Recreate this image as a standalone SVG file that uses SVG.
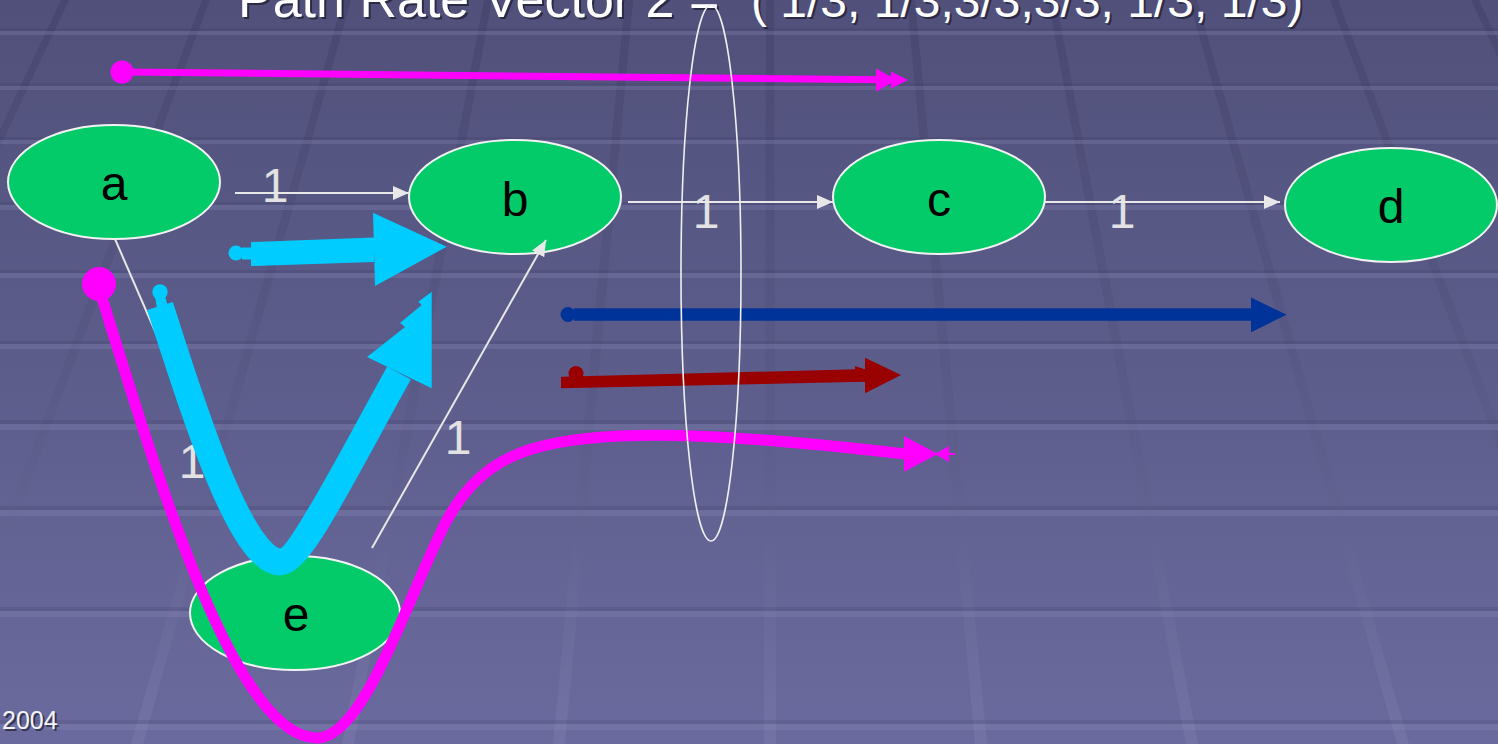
<svg xmlns="http://www.w3.org/2000/svg" width="1498" height="744" viewBox="0 0 1498 744">
<defs>
<linearGradient id="bg" x1="0" y1="0" x2="0" y2="1">
<stop offset="0" stop-color="#50507a"/>
<stop offset="1" stop-color="#6a6a9e"/>
</linearGradient>
<linearGradient id="slant" gradientUnits="userSpaceOnUse" x1="0" y1="0" x2="0" y2="744">
<stop offset="0" stop-color="#3e3e66" stop-opacity="0.5"/>
<stop offset="0.55" stop-color="#55557f" stop-opacity="0.35"/>
<stop offset="1" stop-color="#8282b2" stop-opacity="0.35"/>
</linearGradient>
<marker id="wa" viewBox="0 0 16 14" refX="16" refY="7" markerWidth="16" markerHeight="14" markerUnits="userSpaceOnUse" orient="auto">
<path d="M0,0 L16,7 L0,14 z" fill="#e8e8e8"/>
</marker>
</defs>
<style>
.node{fill:#03cb69;stroke:#f2f2f2;stroke-width:2}
.nl{font-family:"Liberation Sans",Arial,sans-serif;font-size:48px;fill:#000;text-anchor:middle}
.edge{stroke:#e8e8e8;stroke-width:2;fill:none}
.el{font-family:"Liberation Sans",Arial,sans-serif;font-size:48px;fill:#e2e2e2;text-anchor:middle}
.title{font-family:"Liberation Sans",Arial,sans-serif;font-size:52px}
.frac{font-size:48px}
.hd{fill:#3a3a60;opacity:0.18}
.hl{fill:#8c8cbc;opacity:0.28}
.sl{fill:url(#slant)}
.pink{fill:#ff00ff}
.pinks{stroke:#ff00ff;fill:none}
.cyan{fill:#00ccff}
.cyans{stroke:#00ccff;fill:none}
</style>
<rect x="0" y="0" width="1498" height="744" fill="url(#bg)"/>
<g id="background-grid">
<polygon class="sl" points="61,0 69,0 -280,744 -290,744"/>
<polygon class="sl" points="202,0 210,0 -68,744 -80,744"/>
<polygon class="sl" points="343,0 351,0 143,744 131,744"/>
<polygon class="sl" points="484,0 492,0 354,744 342,744"/>
<polygon class="sl" points="625,0 633,0 565,744 553,744"/>
<polygon class="sl" points="766,0 774,0 776,744 764,744"/>
<polygon class="sl" points="907,0 915,0 987,744 975,744"/>
<polygon class="sl" points="1048,0 1056,0 1198,744 1186,744"/>
<polygon class="sl" points="1189,0 1197,0 1409,744 1397,744"/>
<polygon class="sl" points="1330,0 1338,0 1620,744 1608,744"/>
<polygon class="sl" points="1471,0 1479,0 1831,744 1819,744"/>
<rect class="hd" x="0" y="28" width="1498" height="3"/><rect class="hl" x="0" y="31" width="1498" height="4"/>
<rect class="hd" x="0" y="83" width="1498" height="3"/><rect class="hl" x="0" y="86" width="1498" height="4"/>
<rect class="hd" x="0" y="137" width="1498" height="3"/><rect class="hl" x="0" y="140" width="1498" height="4"/>
<rect class="hd" x="0" y="202" width="1498" height="3"/><rect class="hl" x="0" y="205" width="1498" height="5"/>
<rect class="hd" x="0" y="270" width="1498" height="3"/><rect class="hl" x="0" y="273" width="1498" height="5"/>
<rect class="hd" x="0" y="341" width="1498" height="3"/><rect class="hl" x="0" y="344" width="1498" height="5"/>
<rect class="hd" x="0" y="420" width="1498" height="4"/><rect class="hl" x="0" y="424" width="1498" height="6"/>
<rect class="hd" x="0" y="506" width="1498" height="4"/><rect class="hl" x="0" y="510" width="1498" height="6"/>
<rect class="hd" x="0" y="607" width="1498" height="4"/><rect class="hl" x="0" y="611" width="1498" height="6"/>
<rect class="hd" x="0" y="720" width="1498" height="4"/><rect class="hl" x="0" y="724" width="1498" height="6"/>
</g>
<g id="title">
<text class="title" x="240" y="19" fill="#1e1e34" opacity="0.75">Path Rate Vector 2 = <tspan class="frac" x="753">( 1/3, 1/3,3/3,3/3, 1/3, 1/3)</tspan></text>
<text class="title" x="238" y="17" fill="#ffffff">Path Rate Vector 2 = <tspan class="frac" x="751">( 1/3, 1/3,3/3,3/3, 1/3, 1/3)</tspan></text>
</g>
<g id="footer">
<text x="4" y="731" font-family="Liberation Sans, Arial, sans-serif" font-size="25" fill="#1e1e34" opacity="0.7">2004</text>
<text x="2" y="729" font-family="Liberation Sans, Arial, sans-serif" font-size="25" fill="#f4f4f4">2004</text>
</g>
<g id="node-a"><ellipse class="node" cx="114" cy="182" rx="106" ry="57"/><text class="nl" x="114" y="200">a</text></g>
<g id="node-b"><ellipse class="node" cx="515" cy="197" rx="106" ry="57"/><text class="nl" x="515" y="216">b</text></g>
<g id="node-c"><ellipse class="node" cx="939" cy="197" rx="106" ry="57"/><text class="nl" x="939" y="216">c</text></g>
<g id="node-d"><ellipse class="node" cx="1391" cy="205" rx="106" ry="57"/><text class="nl" x="1391" y="223">d</text></g>
<g id="node-e"><ellipse class="node" cx="295" cy="613" rx="105" ry="57"/><text class="nl" x="296" y="631">e</text></g>
<g id="connectors">
<text class="el" x="275" y="202">1</text>
<text class="el" x="706" y="228">1</text>
<text class="el" x="1122" y="228">1</text>
<text class="el" x="458" y="454">1</text>
<text class="el" x="192" y="478">1</text>
<line class="edge" x1="235" y1="193" x2="409" y2="193" marker-end="url(#wa)"/>
<line class="edge" x1="628" y1="202" x2="833" y2="202" marker-end="url(#wa)"/>
<line class="edge" x1="1045" y1="202" x2="1280" y2="202" marker-end="url(#wa)"/>
<line class="edge" x1="372" y1="548" x2="546" y2="240" marker-end="url(#wa)"/>
<line class="edge" x1="115" y1="239" x2="253" y2="557" marker-end="url(#wa)"/>
</g>
<g id="flows">
<g id="flow-pink-top">
<circle class="pink" cx="122" cy="72" r="11.5"/>
<line class="pinks" x1="122" y1="72" x2="880" y2="79.7" stroke-width="7"/>
<polygon class="pink" points="876,68.5 897,80 876,91.5"/>
<polygon class="pink" points="891,71.5 908,80 891,88.5"/>
</g>
<g id="flow-cyan-straight">
<circle class="cyan" cx="236" cy="253" r="7.5"/>
<rect class="cyan" x="242" y="247.5" width="11" height="12"/>
<polygon class="cyan" points="251,242 374,237.5 374,262 251,266"/>
<polygon class="cyan" points="373,212.7 446.7,246.7 375,286"/>
</g>
<g id="flow-pink-curve">
<circle class="pink" cx="99" cy="284" r="17"/>
<path class="pinks" stroke-width="11" d="M102,298 C150,450 230,735 316,738 C365,740 410,590 446,522 C480,458 530,440 620,436 C700,432 820,444 905,454"/>
<polygon class="pink" points="904,436 938,454 904,471.7"/>
<polygon class="pink" points="949,446 949,462 935,454"/>
<line class="pinks" x1="935" y1="454" x2="955" y2="454" stroke-width="2"/>
</g>
<g id="flow-cyan-curve">
<circle class="cyan" cx="160" cy="292" r="7.7"/>
<polygon class="cyan" points="155,297 165,296 168,307 157,308"/>
<path class="cyans" stroke-width="27" d="M160,306 C190,400 240,562 280,562 C300,562 345,470 399,373"/>
<polygon class="cyan" points="367,357 405,327 400,323 421.7,305 418.3,301.7 431.7,291.7 431.7,388.3"/>
</g>
<g id="flow-blue">
<circle cx="568" cy="314.5" r="7.5" fill="#003399"/>
<line x1="574" y1="314.5" x2="1253" y2="314.5" stroke="#003399" stroke-width="12.4"/>
<polygon points="1251,297.6 1286.6,314.7 1251,332.2" fill="#003399"/>
</g>
<g id="flow-red">
<circle cx="576" cy="373.5" r="7.5" fill="#990000"/>
<polygon points="561,376.7 866,369 866,381.7 561,388.3" fill="#990000"/>
<polygon points="855,366 867,370 855,374" fill="#990000"/>
<polygon points="865,357.7 901,375 865,393.3" fill="#990000"/>
</g>
</g>
<g id="cut">
<ellipse cx="711" cy="273" rx="30" ry="268" fill="none" stroke="#f0f0f0" stroke-width="1.6"/>
</g>
</svg>
